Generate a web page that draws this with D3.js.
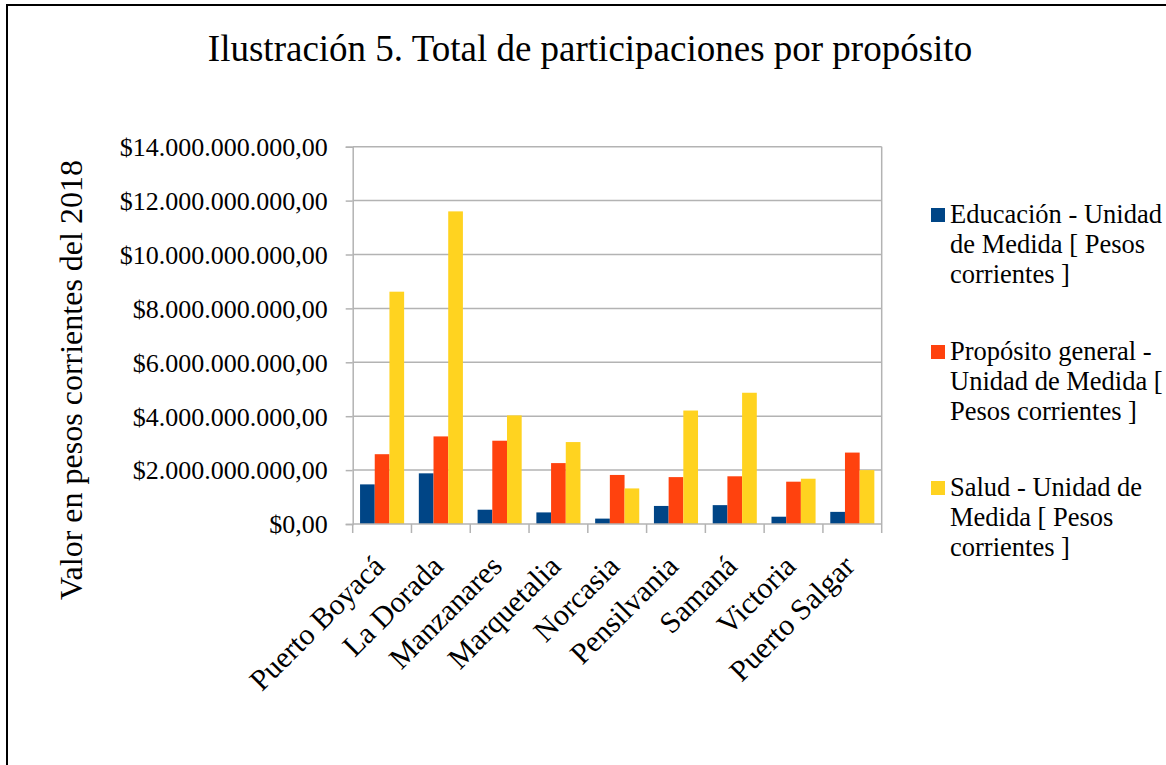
<!DOCTYPE html>
<html>
<head>
<meta charset="utf-8">
<script src="https://cdn.jsdelivr.net/npm/d3@7"></script>
<style>
  html,body{margin:0;padding:0;background:#fff;}
  svg{display:block;font-family:"Liberation Serif","Times New Roman",serif;}
</style>
</head>
<body>
<svg id="chart" width="1166" height="765"></svg>
<script>
/* Data (pesos) */
const municipios=["Puerto Boyacá","La Dorada","Manzanares","Marquetalia","Norcasia","Pensilvania","Samaná","Victoria","Puerto Salgar"];
const series=["Educación - Unidad de Medida [ Pesos corrientes ]","Propósito general - Unidad de Medida [ Pesos corrientes ]","Salud - Unidad de Medida [ Pesos corrientes ]"];
const educacion=[1.47e9,1.88e9,0.53e9,0.43e9,0.20e9,0.67e9,0.70e9,0.27e9,0.45e9];
const proposito=[2.59e9,3.25e9,3.09e9,2.26e9,1.82e9,1.74e9,1.77e9,1.57e9,2.65e9];
const salud=[8.62e9,11.60e9,4.03e9,3.04e9,1.32e9,4.21e9,4.87e9,1.68e9,2.00e9];
const yTicks=[0,2e9,4e9,6e9,8e9,10e9,12e9,14e9];
const legendLines=[["Educación - Unidad","de Medida [ Pesos","corrientes ]"],["Propósito general -","Unidad de Medida [","Pesos corrientes ]"],["Salud - Unidad de","Medida [ Pesos","corrientes ]"]];
const colors=["#004586","#ff420e","#ffd320"];

const values=[educacion,proposito,salud];
const rows=municipios.map((m,i)=>({m,vals:values.map(v=>v[i])}));

/* Layout */
const svg=d3.select("#chart");
const plot={left:352.7,right:881.7,top:146.7,bottom:524};

// outer frame
svg.append("rect").attr("x",7).attr("y",5).attr("width",1180).attr("height",780)
  .attr("fill","none").attr("stroke","#000").attr("stroke-width",2);

const x=d3.scaleBand().domain(municipios).range([plot.left,plot.right]).paddingInner(0).paddingOuter(0);
const xInner=d3.scaleBand().domain(d3.range(3)).range([x.bandwidth()/8,x.bandwidth()*7/8]);
const y=d3.scaleLinear().domain([0,14e9]).range([plot.bottom,plot.top]);

// gridlines
svg.append("g").selectAll("line").data(yTicks.slice(1)).join("line")
  .attr("x1",plot.left).attr("x2",plot.right).attr("y1",d=>y(d)).attr("y2",d=>y(d))
  .attr("stroke","#b3b3b3").attr("stroke-width",1.5);
// right border of plot
svg.append("line").attr("x1",plot.right).attr("x2",plot.right).attr("y1",plot.top).attr("y2",plot.bottom)
  .attr("stroke","#b3b3b3").attr("stroke-width",1.5);

// bars
const groups=svg.append("g").selectAll("g").data(rows).join("g")
  .attr("transform",d=>`translate(${x(d.m)},0)`);
groups.selectAll("rect").data(d=>d.vals).join("rect")
  .attr("x",(d,i)=>xInner(i)).attr("width",xInner.bandwidth())
  .attr("y",d=>y(d)).attr("height",d=>plot.bottom-y(d))
  .attr("fill",(d,i)=>colors[i]);

// y axis
const fmt=v=>"$"+d3.format(",.2f")(v).replace(/,/g,"#").replace(/\./g,",").replace(/#/g,".");
const yAxis=svg.append("g").attr("transform",`translate(${plot.left},0)`)
  .call(d3.axisLeft(y).tickValues(yTicks).tickSize(7).tickPadding(18).tickFormat(fmt));
yAxis.selectAll("line,path").attr("stroke","#b3b3b3").attr("stroke-width",1.5);
yAxis.selectAll("text").attr("font-family","Liberation Serif").attr("font-size",26).attr("fill","#000").attr("dy","0.34em");

// x axis (ticks at category boundaries)
const xAxisG=svg.append("g");
xAxisG.append("line").attr("x1",plot.left).attr("x2",plot.right).attr("y1",plot.bottom).attr("y2",plot.bottom)
  .attr("stroke","#b3b3b3").attr("stroke-width",1.5);
const bounds=municipios.map(m=>x(m)).concat([plot.right]);
xAxisG.selectAll("line.tk").data(bounds).join("line").attr("class","tk")
  .attr("x1",d=>d).attr("x2",d=>d).attr("y1",plot.bottom).attr("y2",plot.bottom+9)
  .attr("stroke","#b3b3b3").attr("stroke-width",1.5);
xAxisG.selectAll("text").data(municipios).join("text")
  .attr("transform",d=>`translate(${x(d)+x.bandwidth()/2+4},${plot.bottom+44}) rotate(-45)`)
  .attr("text-anchor","end").attr("font-size",30).attr("fill","#000").text(d=>d);

// y title
svg.append("text").attr("transform","translate(82,380) rotate(-90)")
  .attr("text-anchor","middle").attr("font-size",32).attr("fill","#000")
  .text("Valor en pesos corrientes del 2018");

// title
svg.append("text").attr("x",590).attr("y",61).attr("text-anchor","middle")
  .attr("font-size",37).attr("fill","#000").text("Ilustración 5. Total de participaciones por propósito");

// legend
const legBase=[223,360,496];
const leg=svg.append("g").selectAll("g").data(series).join("g")
  .attr("transform",(d,i)=>`translate(931,${legBase[i]})`);
leg.append("rect").attr("x",0).attr("y",-15).attr("width",14).attr("height",14).attr("fill",(d,i)=>colors[i]);
leg.append("text").attr("font-size",26.5).attr("fill","#000")
  .selectAll("tspan").data((d,i)=>legendLines[i]).join("tspan")
  .attr("x",19).attr("y",(d,j)=>j*30).text(d=>d);
</script>
</body>
</html>
